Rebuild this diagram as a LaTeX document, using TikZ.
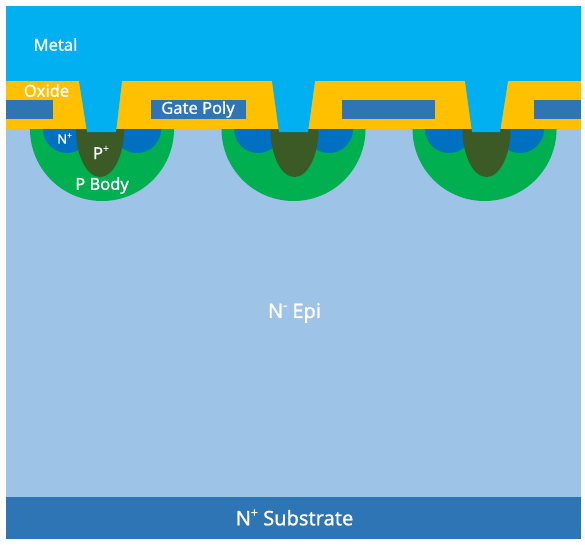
\documentclass[tikz,border=0pt]{standalone}
\usepackage{fontspec}
\setmainfont{Noto Sans}
\newfontfamily\labfont[FakeBold=1]{Noto Sans}
\definecolor{metal}{HTML}{00B0F0}
\definecolor{oxide}{HTML}{FFC000}
\definecolor{poly}{HTML}{2E75B6}
\definecolor{epi}{HTML}{9DC3E6}
\definecolor{pbody}{HTML}{00B050}
\definecolor{nplus}{HTML}{0070C0}
\definecolor{pplus}{HTML}{3B5A25}
\tikzset{
  lab/.style={text=white,inner sep=0pt,font=\fontsize{#1}{#1}\labfont},
  lab/.default=16.5
}
\newcommand{\sig}[1]{\raisebox{0.42em}{\scalebox{0.62}{#1}}}
\begin{document}
\begin{tikzpicture}[x=1pt,y=-1pt]
\useasboundingbox (0,0) rectangle (585,544);
\fill[white] (0,0) rectangle (585,544);
% layers
\fill[epi] (6,129) rectangle (581,497);
\fill[poly] (6,497) rectangle (581,539);
% cells: body centre, n+ centres, p+ centre
\foreach \c/\nl/\nr/\p in {102/67/137/100, 293.5/258/329/294.5, 484.5/449/520/486.5}{
  \fill[pbody] (\c-72,129) arc[start angle=180,end angle=0,radius=72] -- cycle;
  \fill[nplus] (\nl-24,129) arc[start angle=180,end angle=0,radius=24] -- cycle;
  \fill[nplus] (\nr-24,129) arc[start angle=180,end angle=0,radius=24] -- cycle;
  \fill[pplus] (\p-24,129) arc[start angle=180,end angle=0,x radius=24,y radius=48] -- cycle;
}
\fill[oxide] (6,81) rectangle (581,129);
\foreach \a/\b in {6/53,151/246,342/435,534/581}
  \fill[poly] (\a,100) rectangle (\b,119);
\fill[metal] (6,6) rectangle (581,81);
\foreach \a/\b/\d/\e in {79/122/87/116, 272/315/279/308, 465/508/472/500}
  \fill[metal] (\a,81) -- (\b,81) -- (\e,132) -- (\d,132) -- cycle;
% labels
\node[lab] (metalL) at (55.5,44.5) {Metal};
\node[lab] (oxideL) at (46.5,90.5) {Oxide};
\node[lab] (polyL) at (198,109.5) {Gate Poly};
\node[lab=13] (nplusL) at (64.5,138.5) {N\sig{+}};
\node[lab] (pplusL) at (101,152.5) {P\sig{+}};
\node[lab] (bodyL) at (102,185.5) {P Body};
\node[lab=20] (epiL) at (294.5,313) {N\sig{-} Epi};
\node[lab=20] (subL) at (294.5,517.5) {N\sig{+} Substrate};
\end{tikzpicture}
\end{document}
